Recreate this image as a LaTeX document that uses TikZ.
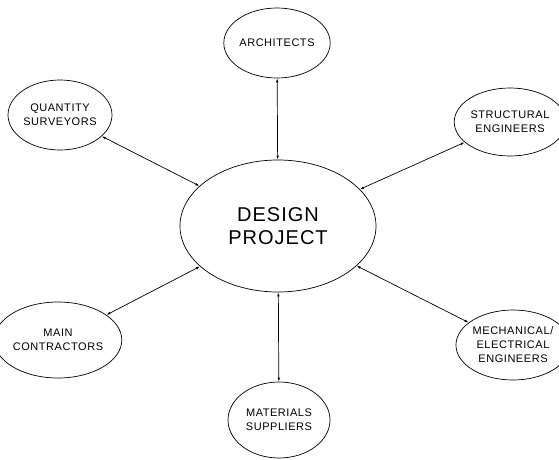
\documentclass[tikz,border=0pt]{standalone}
\usepackage{fontspec}
\setmainfont{Liberation Sans}[LetterSpace=5]
\usetikzlibrary{shapes,arrows}
\usetikzlibrary{arrows.meta}

\begin{document}
\begin{tikzpicture}[x=1pt,y=-1pt,>={Latex[length=4pt,width=2.6pt]},line width=0.7pt]
\tikzstyle{every node}=[font=\fontsize{11}{14}\selectfont]
\tikzstyle{party}=[ellipse,draw,inner sep=0pt,align=center]
\useasboundingbox (0,0) rectangle (559,460);
%centre
\path node[party,minimum width=196pt,minimum height=132pt,font=\fontsize{20}{23}\selectfont] (proj) at (278,226) {DESIGN\\PROJECT};
%parties round it
\path node[party,minimum width=98pt,minimum height=70pt] (arch) at (277,43) {ARCHITECTS};
\path node[party,minimum width=104pt,minimum height=70pt] (qs) at (60,115) {QUANTITY\\SURVEYORS};
\path node[party,minimum width=92pt,minimum height=68pt] (struct) at (510,122) {STRUCTURAL\\ENGINEERS};
\path node[party,minimum width=106pt,minimum height=76pt] (main) at (58,340) {MAIN\\CONTRACTORS};
\path node[party,minimum width=90pt,minimum height=70pt] (mech) at (513,345) {MECHANICAL/\\ELECTRICAL\\ENGINEERS};
\path node[party,minimum width=102pt,minimum height=76pt] (mat) at (279,420) {MATERIALS\\SUPPLIERS};

\path[<->] (arch) edge (proj);
\path[<->] (qs) edge (proj);
\path[<->] (struct) edge (proj);
\path[<->] (main) edge (proj);
\path[<->] (mech) edge (proj);
\path[<->] (mat) edge (proj);
\end{tikzpicture}
\end{document}
